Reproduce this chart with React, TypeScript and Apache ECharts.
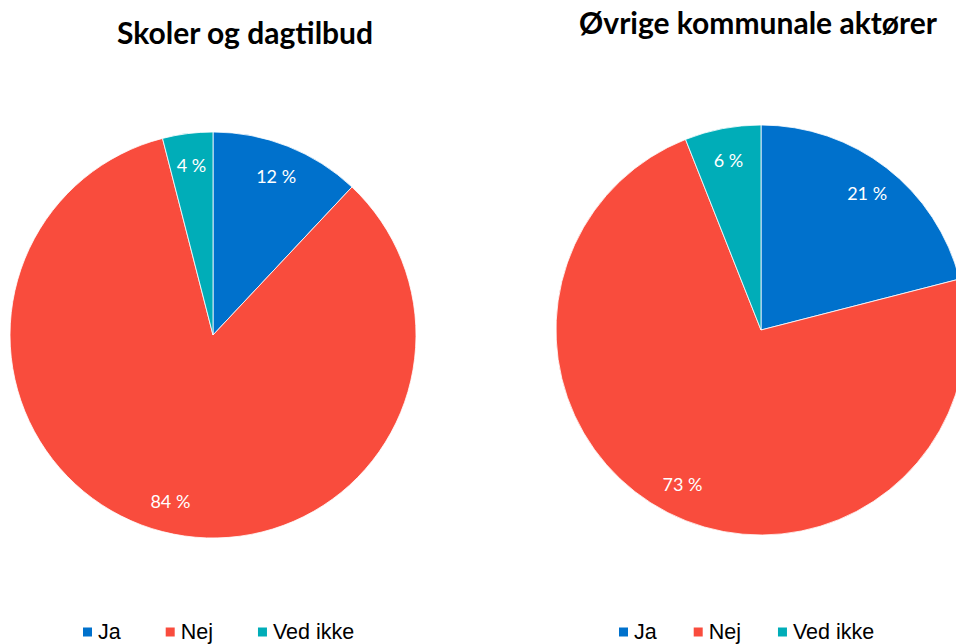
import React, { useEffect, useRef } from "react";
import * as echarts from "echarts";

const categories = ["Ja", "Nej", "Ved ikke"];
const titles = ["Skoler og dagtilbud", "Øvrige kommunale aktører"];
const schoolValues = [12, 84, 4];
const otherValues = [21, 73, 6];
const colors = ["#0071CC", "#F94C3D", "#00ADB8"];

export default function App() {
  const ref = useRef<HTMLDivElement>(null);
  useEffect(() => {
    if (!ref.current) return;
    const chart = echarts.init(ref.current, null, { renderer: "svg" });
    const mk = (vals: number[]) =>
      categories.map((name, i) => ({ name, value: vals[i], itemStyle: { color: colors[i] } }));
    const mainPie = (vals: number[], center: [number, number], r: number) => ({
      type: "pie",
      center,
      radius: [0, r],
      startAngle: 90,
      clockwise: true,
      label: { show: false },
      labelLine: { show: false },
      itemStyle: { borderColor: "#ffffff", borderWidth: 0.8 },
      emphasis: { disabled: true },
      data: mk(vals),
    });
    const labelPie = (vals: number[], center: [number, number], r: number) => ({
      type: "pie",
      center,
      radius: [r * 0.66, r],
      startAngle: 90,
      clockwise: true,
      silent: true,
      itemStyle: { color: "rgba(0,0,0,0)", borderWidth: 0 },
      label: {
        show: true,
        position: "inside",
        formatter: "{c} %",
        color: "#ffffff",
        fontFamily: "Lato",
        fontSize: 18,
      },
      labelLine: { show: false },
      emphasis: { disabled: true },
      data: categories.map((name, i) => ({ name, value: vals[i] })),
    });
    const legendBase = {
      orient: "horizontal",
      icon: "rect",
      itemWidth: 11,
      itemHeight: 11,
      padding: 0,
      selectedMode: false,
      textStyle: { fontFamily: "Liberation Sans", fontSize: 21.5, color: "#000000", lineHeight: 20 },
      data: categories,
    };
    const titleStyle = { fontFamily: "Lato", fontWeight: "bold", fontSize: 30, lineHeight: 30, color: "#000000" };
    chart.setOption({
      animation: false,
      backgroundColor: "#ffffff",
      title: [
        { text: titles[0], left: 245, top: 17, padding: 0, textAlign: "center", textStyle: titleStyle },
        { text: titles[1], left: 758, top: 7, padding: 0, textAlign: "center", textStyle: titleStyle },
      ],
      legend: [
        { ...legendBase, left: 81, top: 621, itemGap: 43 },
        { ...legendBase, left: 617, top: 621, itemGap: 35 },
      ],
      series: [
        mainPie(schoolValues, [213, 335], 203),
        mainPie(otherValues, [761, 330], 205),
        labelPie(schoolValues, [213, 335], 203),
        labelPie(otherValues, [761, 330], 205),
      ],
    });
    return () => chart.dispose();
  }, []);
  return (
    <div
      ref={ref}
      style={{ position: "fixed", left: 0, top: 0, width: 956, height: 644 }}
    />
  );
}
